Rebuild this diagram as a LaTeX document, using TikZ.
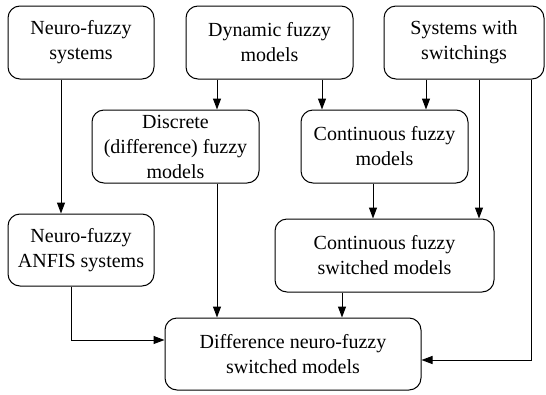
\documentclass[tikz,border=0pt]{standalone}
\usepackage{fontspec}
\setmainfont{Liberation Serif}
\usetikzlibrary{arrows.meta}

\tikzset{
    block/.style={draw, rounded corners=12pt, line width=1pt, align=center,
        inner sep=2pt, font=\fontsize{20}{25}\selectfont},
    arr/.style={-{Triangle[length=11pt,width=8pt]}, line width=1pt}
}

\begin{document}
\begin{tikzpicture}[x=1pt, y=-1pt]

        % Frame
        \useasboundingbox (0,0) rectangle (546,394);

        % Top row
        \node[block, minimum width=146pt, minimum height=73pt] (nfs) at (81,42.5) {Neuro-fuzzy\\systems};
        \node[block, minimum width=167pt, minimum height=73pt] (dyn) at (269.5,42.5) {Dynamic fuzzy\\models};
        \node[block, minimum width=160pt, minimum height=73pt] (sws) at (464,42.5) {Systems with\\switchings};

        % Middle row
        \node[block, minimum width=167pt, minimum height=73pt] (disc) at (175.5,146.5) {Discrete\\(difference) fuzzy\\models};
        \node[block, minimum width=167pt, minimum height=73pt] (cont) at (384.5,146.5) {Continuous fuzzy\\models};

        % Lower row
        \node[block, minimum width=146pt, minimum height=72pt] (anfis) at (81,250) {Neuro-fuzzy\\ANFIS systems};
        \node[block, minimum width=219pt, minimum height=73pt] (csw) at (384.5,255.5) {Continuous fuzzy\\switched models};

        % Result
        \node[block, minimum width=256pt, minimum height=72pt] (diff) at (293,354) {Difference neuro-fuzzy\\switched models};

        % Columns for the connectors
        \coordinate (c1) at (61,0);
        \coordinate (c2) at (71,0);
        \coordinate (c3) at (217,0);
        \coordinate (c4) at (322,0);
        \coordinate (c5) at (342,0);
        \coordinate (c6) at (373,0);
        \coordinate (c7) at (426,0);
        \coordinate (c8) at (479,0);
        \coordinate (c9) at (531,0);

        % Connectors
        \draw[arr] (nfs.south -| c1) -- (anfis.north -| c1);
        \draw[arr] (dyn.south -| c3) -- (disc.north -| c3);
        \draw[arr] (dyn.south -| c4) -- (cont.north -| c4);
        \draw[arr] (sws.south -| c7) -- (cont.north -| c7);
        \draw[arr] (sws.south -| c8) -- (csw.north -| c8);
        \draw[arr] (cont.south -| c6) -- (csw.north -| c6);
        \draw[arr] (disc.south -| c3) -- (diff.north -| c3);
        \draw[arr] (csw.south -| c5) -- (diff.north -| c5);
        \draw[arr] (anfis.south -| c2) |- ([yshift=14pt]diff.west);
        \draw[arr] (sws.south -| c9) |- ([yshift=-6pt]diff.east);

    \end{tikzpicture}
\end{document}
